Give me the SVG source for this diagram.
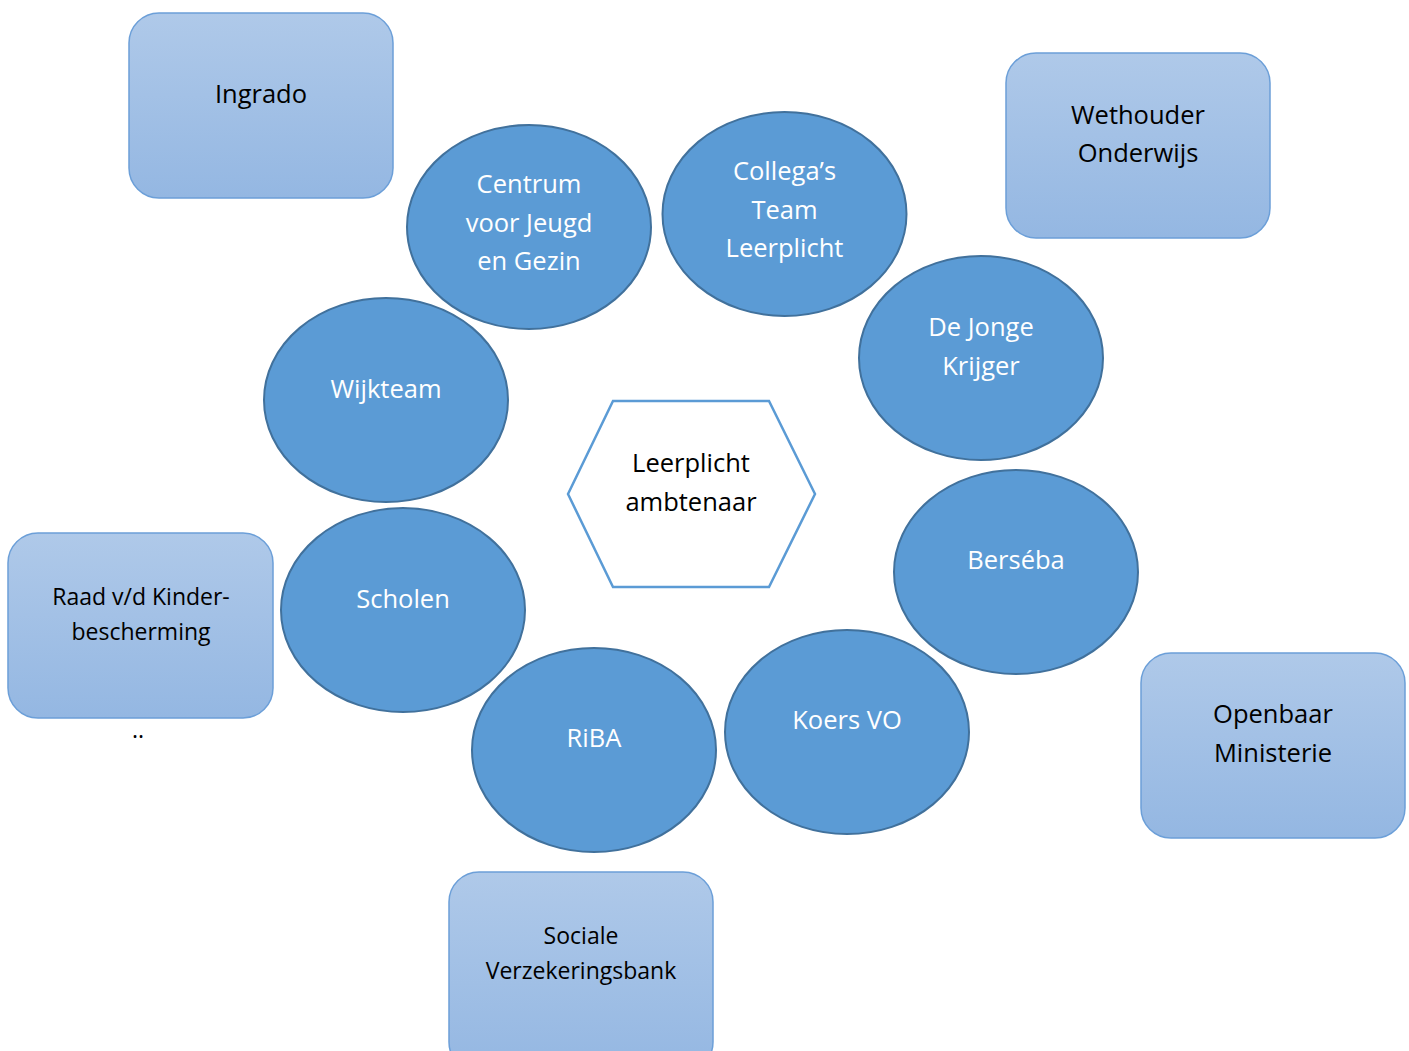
<svg xmlns="http://www.w3.org/2000/svg" width="1409" height="1051" viewBox="0 0 1409 1051">
<defs>
<linearGradient id="boxGrad" x1="0" y1="0" x2="0" y2="1">
<stop offset="0" stop-color="#afc9e9"/>
<stop offset="1" stop-color="#94b7e2"/>
</linearGradient>
<style>
.box{fill:url(#boxGrad);stroke:#6c9fd8;stroke-width:1.5}
.ell{fill:#5b9bd5;stroke:#41719c;stroke-width:2}
.hex{fill:#ffffff;stroke:#5b9bd5;stroke-width:2.5}
.tb{font-family:"Open Sans","Noto Sans",sans-serif;font-size:25.5px;fill:#000000;text-anchor:middle;dominant-baseline:central}
.tw{font-family:"Open Sans","Noto Sans",sans-serif;font-size:25.5px;fill:#ffffff;text-anchor:middle;dominant-baseline:central}
.ts{font-size:23px}
</style>
</defs>
<rect width="1409" height="1051" fill="#ffffff"/>
<g id="connectors"></g>
<g id="ingrado">
<rect class="box" x="129" y="13" width="264" height="185" rx="30"/>
<text class="tb" x="261" y="93">Ingrado</text>
</g>
<g id="wethouder">
<rect class="box" x="1006" y="53" width="264" height="185" rx="30"/>
<text class="tb" x="1138" y="114">Wethouder</text>
<text class="tb" x="1138" y="152">Onderwijs</text>
</g>
<g id="raad">
<rect class="box" x="8" y="533" width="265" height="185" rx="30"/>
<text class="tb ts" x="141" y="596">Raad v/d Kinder-</text>
<text class="tb ts" x="141" y="631">bescherming</text>
<text class="tb ts" x="138" y="729">..</text>
</g>
<g id="om">
<rect class="box" x="1141" y="653" width="264" height="185" rx="30"/>
<text class="tb" x="1273" y="713">Openbaar</text>
<text class="tb" x="1273" y="752">Ministerie</text>
</g>
<g id="svb">
<rect class="box" x="449" y="872" width="264" height="200" rx="30"/>
<text class="tb ts" x="581" y="935">Sociale</text>
<text class="tb ts" x="581" y="970">Verzekeringsbank</text>
</g>
<g id="cjg">
<ellipse class="ell" cx="529" cy="227" rx="122" ry="102"/>
<text class="tw" x="529" y="183">Centrum</text>
<text class="tw" x="529" y="222">voor Jeugd</text>
<text class="tw" x="529" y="260">en Gezin</text>
</g>
<g id="collegas">
<ellipse class="ell" cx="784.5" cy="214" rx="122" ry="102"/>
<text class="tw" x="784.5" y="170">Collega’s</text>
<text class="tw" x="784.5" y="209">Team</text>
<text class="tw" x="784.5" y="247">Leerplicht</text>
</g>
<g id="dejonge">
<ellipse class="ell" cx="981" cy="358" rx="122" ry="102"/>
<text class="tw" x="981" y="326">De Jonge</text>
<text class="tw" x="981" y="365">Krijger</text>
</g>
<g id="wijkteam">
<ellipse class="ell" cx="386" cy="400" rx="122" ry="102"/>
<text class="tw" x="386" y="388">Wijkteam</text>
</g>
<g id="berseba">
<ellipse class="ell" cx="1016" cy="572" rx="122" ry="102"/>
<text class="tw" x="1016" y="559">Berséba</text>
</g>
<g id="scholen">
<ellipse class="ell" cx="403" cy="610" rx="122" ry="102"/>
<text class="tw" x="403" y="598">Scholen</text>
</g>
<g id="riba">
<ellipse class="ell" cx="594" cy="750" rx="122" ry="102"/>
<text class="tw" x="594" y="737">RiBA</text>
</g>
<g id="koers">
<ellipse class="ell" cx="847" cy="732" rx="122" ry="102"/>
<text class="tw" x="847" y="719">Koers VO</text>
</g>
<g id="leerplicht">
<polygon class="hex" points="568,494 613,401 769,401 815,494 769,587 613,587"/>
<text class="tb" x="691" y="462">Leerplicht</text>
<text class="tb" x="691" y="501">ambtenaar</text>
</g>
</svg>
